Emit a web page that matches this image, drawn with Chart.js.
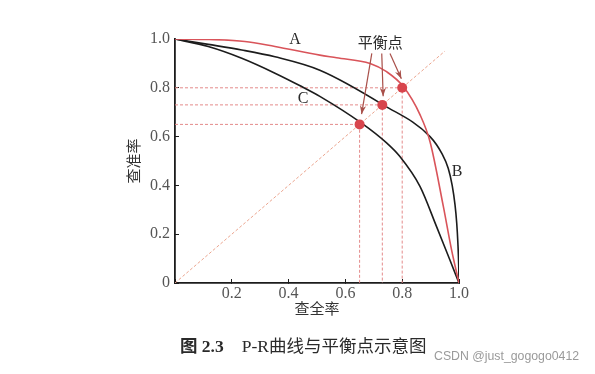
<!DOCTYPE html>
<html>
<head>
<meta charset="utf-8">
<script src="https://cdn.jsdelivr.net/npm/chart.js@4/dist/chart.umd.min.js"></script>
<style>
  body { margin: 0; background: #fff; }
  #wrap { position: relative; width: 595px; height: 374px; }
  #caption { position: absolute; left: 180px; top: 332px; font: 17.5px "Liberation Serif", "Noto Sans CJK SC", serif; color: #2a2a2a; white-space: nowrap; }
  #caption b { margin-right: 18px; }
  #mark { position: absolute; left: 434px; top: 349px; font: 12.3px "Liberation Sans", "DejaVu Sans", sans-serif; color: #9a9a9a; white-space: nowrap; }
</style>
</head>
<body>
<div id="wrap">
  <canvas id="grafik" width="595" height="374"></canvas>
  <div id="caption"><b>图 2.3</b>P-R曲线与平衡点示意图</div>
  <div id="mark">CSDN @just_gogogo0412</div>
</div>
<script>
// kurva P-R (x = 查全率 / recall, y = 查准率 / precision)
const recallA = [0, 0.12, 0.246, 0.352, 0.51, 0.569, 0.687, 0.745, 0.804, 0.863, 0.898, 0.945, 0.974, 1.0];
const precA   = [1.0, 0.998, 0.99, 0.969, 0.934, 0.923, 0.9, 0.866, 0.805, 0.689, 0.579, 0.313, 0.135, 0];

const recallB = [0, 0.117, 0.235, 0.352, 0.51, 0.733, 0.898, 0.94, 0.962, 0.976, 0.986, 0.992, 0.996, 0.999, 1.0];
const precB   = [1.0, 0.978, 0.955, 0.927, 0.872, 0.73, 0.60, 0.53, 0.47, 0.40, 0.32, 0.245, 0.165, 0.07, 0];

const recallC = [0, 0.117, 0.235, 0.352, 0.446, 0.51, 0.657, 0.745, 0.792, 0.863, 0.921, 0.968, 1.0];
const precC   = [1.0, 0.969, 0.921, 0.86, 0.805, 0.765, 0.655, 0.574, 0.518, 0.395, 0.231, 0.094, 0];

// titik keseimbangan (BEP) untuk A, B, C
const bepNilai = [0.80, 0.73, 0.65];

const tickX = [0.2, 0.4, 0.6, 0.8, 1.0];
const tickY = [0, 0.2, 0.4, 0.6, 0.8, 1.0];

// label kurva: [teks, recall, precision]
const labelKurva = [["A", 0.423, 0.996], ["B", 0.993, 0.455], ["C", 0.451, 0.754]];
const labelBep = ["平衡点", 0.723, 0.988];
// panah dari label ke titik: [x0, y0, x1, y1]
const panah = [[0.693, 0.941, 0.657, 0.692], [0.728, 0.941, 0.733, 0.765], [0.757, 0.941, 0.797, 0.837]];

const zip = (xs, ys) => xs.map((x, i) => ({ x, y: ys[i] }));

const merah = "#d9545a", hitam = "#1c1c1c", garis = "#e48a8a";

// urutan: dataset pertama digambar paling atas
const datasets = [];
datasets.push({ data: bepNilai.map(b => ({ x: b, y: b })), showLine: false, pointRadius: 5, pointBackgroundColor: "#d8454d", pointBorderWidth: 0 });
datasets.push({ data: zip(recallA, precA), showLine: true, borderColor: merah, borderWidth: 1.6, pointRadius: 0, cubicInterpolationMode: "monotone" });
datasets.push({ data: zip(recallB, precB), showLine: true, borderColor: hitam, borderWidth: 1.6, pointRadius: 0, cubicInterpolationMode: "monotone" });
datasets.push({ data: zip(recallC, precC), showLine: true, borderColor: hitam, borderWidth: 1.6, pointRadius: 0, cubicInterpolationMode: "monotone" });
bepNilai.forEach(b => datasets.push({
    data: [{ x: 0, y: b }, { x: b, y: b }, { x: b, y: 0 }], showLine: true,
    borderColor: garis, borderWidth: 1, borderDash: [3, 2], pointRadius: 0
}));
datasets.push({ data: [{ x: 0, y: 0 }, { x: 0.95, y: 0.95 }], showLine: true, borderColor: "#eba58f", borderWidth: 1, borderDash: [3, 2], pointRadius: 0 });

// gambar label dan panah
const anotasi = {
    id: "anotasi",
    afterDatasetsDraw(c) {
        const { ctx, scales: { x, y } } = c;
        ctx.save();
        ctx.fillStyle = "#2a2a2a";
        ctx.font = "16px 'Liberation Serif', serif";
        ctx.textAlign = "center"; ctx.textBaseline = "middle";
        labelKurva.forEach(([t, a, b]) => ctx.fillText(t, x.getPixelForValue(a), y.getPixelForValue(b)));
        ctx.font = "15px 'Noto Sans CJK SC', sans-serif";
        ctx.fillText(labelBep[0], x.getPixelForValue(labelBep[1]), y.getPixelForValue(labelBep[2]));

        ctx.strokeStyle = "#a9504a"; ctx.fillStyle = "#a9504a"; ctx.lineWidth = 1.2;
        panah.forEach(([a0, b0, a1, b1]) => {
            const x0 = x.getPixelForValue(a0), y0 = y.getPixelForValue(b0);
            const x1 = x.getPixelForValue(a1), y1 = y.getPixelForValue(b1);
            const sud = Math.atan2(y1 - y0, x1 - x0);
            ctx.beginPath(); ctx.moveTo(x0, y0); ctx.lineTo(x1, y1); ctx.stroke();
            ctx.beginPath();
            ctx.moveTo(x1, y1);
            ctx.lineTo(x1 - 9 * Math.cos(sud - 0.35), y1 - 9 * Math.sin(sud - 0.35));
            ctx.lineTo(x1 - 6 * Math.cos(sud), y1 - 6 * Math.sin(sud));
            ctx.lineTo(x1 - 9 * Math.cos(sud + 0.35), y1 - 9 * Math.sin(sud + 0.35));
            ctx.closePath(); ctx.fill();
        });
        ctx.restore();
    }
};

const fontTick = { family: "'Liberation Serif', serif", size: 16 };

new Chart(grafik, {
    type: "scatter",
    data: { datasets },
    options: {
        responsive: false, animation: false,
        layout: { padding: { left: 120, right: 136, top: 39, bottom: 53 } },
        plugins: { legend: { display: false }, tooltip: { enabled: false } },
        scales: {
            x: {
                type: "linear", min: 0, max: 1,
                afterBuildTicks: s => { s.ticks = [0, ...tickX].map(v => ({ value: v })); },
                afterFit: s => { s.height = 38; },
                ticks: { color: "#555", font: fontTick, padding: 5, callback: v => v === 0 ? "" : v.toFixed(1) },
                grid: { drawOnChartArea: false, drawTicks: true, tickLength: -4, color: hitam },
                border: { color: hitam, width: 1.8 },
                title: { display: true, text: "查全率", color: "#333", font: { family: "'Noto Sans CJK SC'", size: 15 }, padding: { top: 0, bottom: 4 } }
            },
            y: {
                type: "linear", min: 0, max: 1,
                afterBuildTicks: s => { s.ticks = tickY.map(v => ({ value: v })); },
                afterFit: s => { s.width = 55; },
                ticks: { color: "#555", font: fontTick, padding: 9, callback: v => v === 0 ? "0" : v.toFixed(1) },
                grid: { drawOnChartArea: false, drawTicks: true, tickLength: -4, color: hitam },
                border: { color: hitam, width: 1.8 },
                title: { display: true, text: "查准率", color: "#333", font: { family: "'Noto Sans CJK SC'", size: 15 }, padding: { top: 4, bottom: 0 } }
            }
        }
    },
    plugins: [anotasi]
});
</script>
</body>
</html>
